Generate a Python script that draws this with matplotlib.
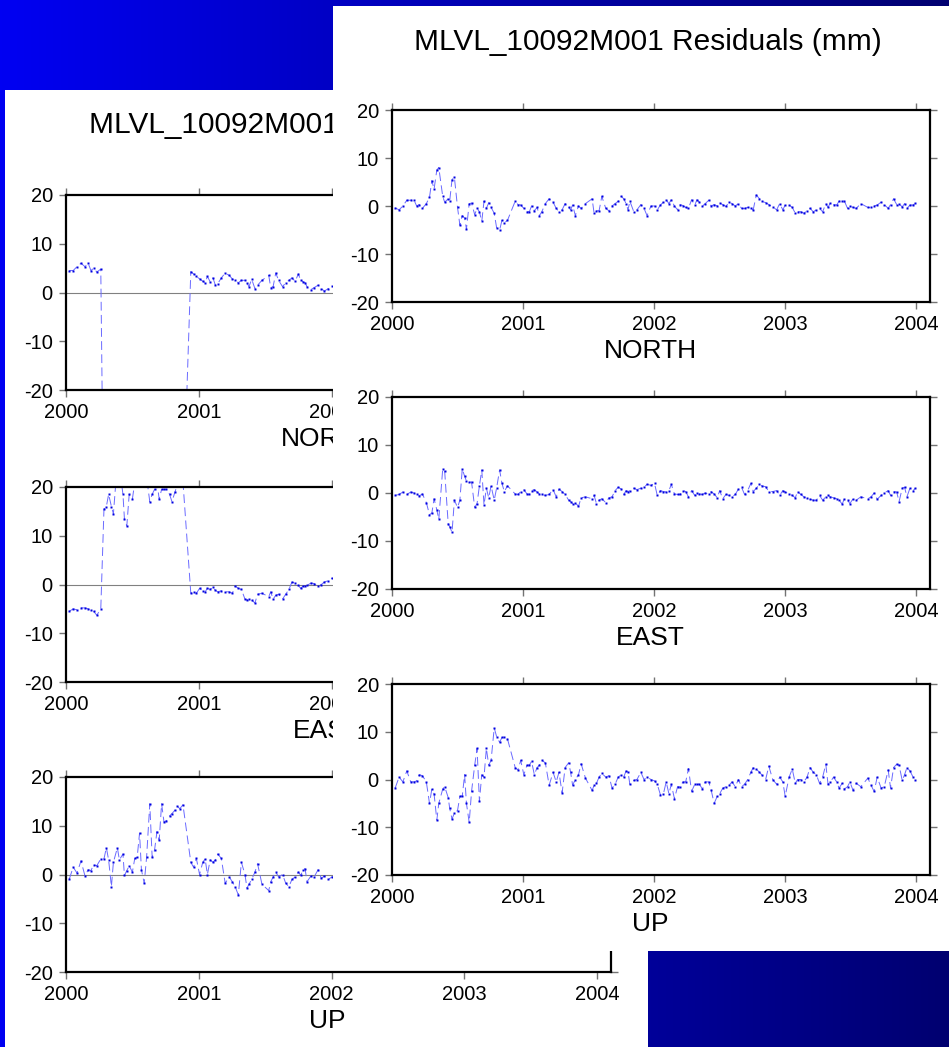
import numpy as np
import matplotlib
matplotlib.use("Agg")
import matplotlib.pyplot as plt
from matplotlib.transforms import offset_copy

plt.rcParams['font.family'] = ['Liberation Sans', 'DejaVu Sans']
plt.rcParams['axes.unicode_minus'] = False

W, H = 949, 1047
nan = float('nan')

title = 'MLVL_10092M001 Residuals (mm)'
components = ['NORTH', 'EAST', 'UP']
years = [2000, 2001, 2002, 2003, 2004]
yticks = [-20, -10, 0, 10, 20]

# weekly solution epochs (decimal year)
epochs = [
    2000.024, 2000.054, 2000.083, 2000.113, 2000.143, 2000.167, 2000.188, 2000.208, 2000.232, 2000.262,
    2000.286, 2000.304, 2000.321, 2000.342, 2000.357, 2000.387, 2000.402, 2000.429, 2000.440, 2000.458,
    2000.476, 2000.500, 2000.518, 2000.536, 2000.554, 2000.568, 2000.589, 2000.607, 2000.631, 2000.649,
    2000.667, 2000.685, 2000.702, 2000.720, 2000.738, 2000.756, 2000.780, 2000.798, 2000.821, 2000.839,
    2000.857, 2000.881, 2000.940, 2000.961, 2000.982, 2001.006, 2001.030, 2001.048, 2001.065, 2001.086,
    2001.107, 2001.125, 2001.143, 2001.170, 2001.199, 2001.229, 2001.253, 2001.274, 2001.298, 2001.321,
    2001.348, 2001.363, 2001.378, 2001.399, 2001.423, 2001.443, 2001.476, 2001.527, 2001.542, 2001.560,
    2001.580, 2001.601, 2001.631, 2001.655, 2001.679, 2001.702, 2001.726, 2001.750, 2001.768, 2001.786,
    2001.801, 2001.815, 2001.845, 2001.869, 2001.899, 2001.923, 2001.946, 2001.976, 2002.003, 2002.024,
    2002.048, 2002.071, 2002.092, 2002.113, 2002.131, 2002.155, 2002.179, 2002.196, 2002.220, 2002.241,
    2002.262, 2002.286, 2002.310, 2002.327, 2002.345, 2002.369, 2002.390, 2002.417, 2002.435, 2002.458,
    2002.482, 2002.500, 2002.524, 2002.548, 2002.571, 2002.595, 2002.619, 2002.643, 2002.667, 2002.690,
    2002.714, 2002.738, 2002.756, 2002.780, 2002.804, 2002.821, 2002.851, 2002.875, 2002.905, 2002.935,
    2002.958, 2002.982, 2003.000, 2003.030, 2003.054, 2003.077, 2003.095, 2003.119, 2003.143, 2003.167,
    2003.190, 2003.214, 2003.238, 2003.262, 2003.286, 2003.310, 2003.327, 2003.345, 2003.369, 2003.393,
    2003.411, 2003.435, 2003.452, 2003.476, 2003.494, 2003.518, 2003.542, 2003.577, 2003.631, 2003.655,
    2003.679, 2003.702, 2003.732, 2003.756, 2003.786, 2003.804, 2003.827, 2003.851, 2003.869, 2003.893,
    2003.911, 2003.929, 2003.952, 2003.976, 2003.994,
]

# corrected residuals (front plot), mm
north = [
    -0.4, -0.8, 0.0, 1.2, 1.2, 1.3, 0.0, 0.3, -0.5, 0.5,
    1.8, 5.3, 3.5, 7.5, 8.0, 2.0, 0.8, 1.5, 1.0, 5.5,
    6.0, -0.3, -4.0, -2.0, -2.5, -4.8, 0.5, 0.6, -1.8, -0.5,
    -1.2, -3.2, 1.0, -0.5, 0.7, -0.3, -1.5, -4.5, -5.0, -3.0,
    -3.5, -3.0, 1.0, 0.3, 0.2, -0.5, -1.2, -1.2, 0.0, -1.0,
    -0.3, -2.0, -1.2, 0.5, 1.5, 0.8, -0.5, -1.2, -0.8, 0.5,
    -0.3, -0.8, 0.2, -2.0, 0.0, -0.5, 0.5, 1.5, -1.5, -1.0,
    -1.0, 2.0, -0.5, -1.0, 0.0, 0.5, 1.0, 2.0, 1.5, 0.5,
    -0.8, 1.0, -1.2, -0.8, 0.3, -0.5, -2.0, 0.0, 0.0, -0.8,
    0.2, 0.8, 1.3, 0.5, 1.3, 0.0, -0.8, 0.3, 0.1, -0.3,
    -0.5, 1.3, 0.2, 1.3, 0.8, 0.0, 0.5, 1.2, 0.0, 0.3,
    0.0, 0.6, 0.3, -0.1, 0.8, 0.5, 0.0, 0.5, -0.5, -0.5,
    -0.3, -0.5, -0.8, 2.3, 1.5, 1.0, 0.7, 0.3, -0.2, -0.8,
    0.5, -0.8, 0.2, 0.2, -0.3, -1.5, -1.2, -1.2, -1.5, -1.0,
    -0.5, -1.2, -0.8, -0.5, -1.2, 0.5, -0.3, 0.7, 0.3, 0.2,
    1.0, 1.0, 1.0, -0.5, 0.0, -0.3, -0.5, 0.5, -0.3, -0.3,
    0.0, 0.2, 0.8, 0.3, -0.5, 0.3, 1.5, 0.3, 0.5, -0.2,
    0.5, -0.5, 0.2, 0.2, 0.6,
]
east = [
    -0.5, -0.3, 0.2, -0.3, 0.2, 0.0, -0.2, -0.6, -0.2, -2.0,
    -4.5, -4.2, -1.2, -3.5, -5.5, 5.0, 4.5, -6.5, -7.0, -8.2,
    -1.5, -3.0, -1.5, 5.0, 3.5, 2.5, 2.2, 2.3, -3.0, -2.2,
    1.5, 4.8, -2.5, 1.0, -1.0, 1.5, -1.5, 1.0, 4.8, 2.0,
    0.3, 1.5, -0.2, -0.3, 0.3, 0.7, -0.2, -0.3, 0.5, 0.7,
    0.2, -0.2, -0.3, -0.5, -0.3, 0.7, -0.8, 0.8, 0.3, -0.3,
    -1.5, -1.8, -2.2, -2.0, -2.8, -1.0, -0.8, -1.2, -0.5, -2.2,
    -1.5, -1.2, -2.0, -1.0, -0.8, 0.5, 1.2, 0.8, -0.3, 0.5,
    0.3, 0.5, 1.0, 0.7, 1.0, 1.2, 1.8, 1.6, 2.0, -0.5,
    0.5, 0.3, 0.2, 0.5, 1.8, -0.2, -0.3, -0.3, 0.5, 0.3,
    -0.8, 0.5, -0.5, 0.0, -0.2, -0.3, 0.0, -0.2, 0.3, -0.2,
    -1.0, 0.5, -1.2, -0.3, -0.5, -0.8, -0.3, 0.8, 1.2, -0.3,
    0.5, 2.0, 0.3, 1.0, 1.8, 1.5, 1.3, 0.3, 0.3, 0.5,
    -0.5, 0.5, 0.2, -0.2, -0.5, -1.0, 0.3, -0.3, -0.8, -1.0,
    -1.3, -1.5, -1.5, -0.5, -1.5, -0.8, -0.5, -0.8, -1.0, -1.2,
    -1.5, -2.3, -1.2, -1.5, -2.2, -1.2, -1.5, -0.8, -1.2, -0.8,
    0.0, -1.3, -0.5, 0.0, 0.5, -0.5, 0.3, 0.2, -1.8, 1.0,
    1.2, -0.8, 1.0, 0.5, 1.0,
]
up = [
    -1.8, 0.5, -0.5, 1.8, -0.5, -0.5, -0.3, 1.0, 0.8, -0.5,
    -5.0, -2.0, -3.0, -8.5, -5.0, -2.0, -1.5, -3.8, -6.0, -8.3,
    -7.0, -6.5, -3.5, -3.5, 1.0, -5.0, -9.0, -2.5, 3.0, 6.5,
    -4.5, 1.0, 0.5, 6.5, 3.0, 4.0, 10.8, 9.0, 7.8, 8.8,
    8.8, 8.5, 2.5, 2.0, 4.0, 1.0, 3.0, 3.0, 3.8, 1.0,
    2.5, 3.0, 4.0, 3.5, -1.2, 1.5, -0.5, 1.5, -2.8, 2.5,
    3.5, 1.5, -1.2, 0.0, 1.0, 3.3, 0.3, -2.3, -1.2, -0.8,
    0.5, 1.3, 0.5, 0.8, -1.8, -1.0, 0.5, 1.0, 0.5, 1.8,
    1.5, -1.0, -0.2, 0.0, 1.5, 0.0, 0.5, 0.0, -0.3, -1.0,
    -3.2, -3.0, -0.5, -3.0, -1.0, -4.0, -1.5, -1.5, -0.5, -0.5,
    2.3, -2.5, -1.0, -1.0, -1.0, -2.0, -0.5, -0.5, -2.2, -5.0,
    -3.5, -3.0, -1.8, -1.5, -1.2, -0.5, -1.5, 0.0, -1.5, -1.0,
    0.0, 1.5, 2.5, 2.2, 1.5, 1.0, 0.0, 2.8, 0.0, -1.0,
    0.5, -0.5, -3.5, 0.5, 2.2, -0.8, 0.0, 0.0, -0.5, 0.5,
    2.5, 1.5, 1.0, -0.8, 0.5, 3.2, -1.0, -0.5, 0.5, -0.5,
    -1.8, -0.8, -2.0, -1.5, -0.5, -2.3, -0.8, -1.5, 0.3, -1.2,
    -2.5, 0.5, -1.8, -1.5, 2.0, -1.8, 2.5, 3.2, 3.0, -0.2,
    1.0, 2.5, 1.8, 0.5, 0.0,
]

# uncorrected residuals (back plot), first epochs only; off-scale weeks beyond -20/+20
north_raw = ([4.5, 4.5, 5.3, 6.0, 5.3, 6.0, 4.5, 5.0, 4.2, 4.8, -55.0]
             + [nan] * 30
             + [-45.0,
                4.3, 3.8, 3.3, 2.8, 2.3, 2.0, 3.3, 2.2, 3.0, 1.5,
                1.8, 3.0, 4.0, 3.5, 2.8, 2.5, 2.0, 2.5, 2.5, 2.0,
                1.2, 2.7, 0.8, 1.5, 2.5, 3.5, 1.0, 1.2, 4.0, 2.5,
                1.2, 2.0, 2.5, 3.0, 2.3, 3.8, 2.5, 2.2, 2.0, 1.2,
                0.6, 1.0, 1.5, 0.8, 0.3, 0.8, 1.3, 1.0, 1.2])
east_raw = [
    -5.5, -5.0, -5.2, -4.8, -4.8, -5.0, -5.2, -5.5, -6.3, -5.0,
    15.5, 16.0, 18.5, 16.0, 14.5, 25.0, 24.0, 18.5, 13.5, 12.0,
    18.5, 17.5, 21.0, 23.0, 22.0, 23.0, 21.5, 22.0, 17.0, 18.5,
    19.5, 21.0, 17.5, 19.5, 19.5, 19.5, 18.5, 17.0, 19.0, 20.5,
    22.0, 21.0, -1.8, -1.5, -1.8, -0.8, -1.3, -1.5, -0.8, -1.0,
    -0.5, -1.2, -1.5, -1.3, -1.5, -1.5, -1.8, -0.3, -0.8, -1.0,
    -3.0, -3.2, -3.0, -3.2, -3.8, -2.0, -1.8, -2.5, -1.5, -3.0,
    -2.2, -2.0, -3.0, -2.0, -1.0, 0.5, 0.3, -0.2, -0.8, -0.3,
    -0.3, -0.2, 0.3, 0.2, -0.3, 0.0, 0.5, 0.8, 1.3, 1.0, 1.5,
]
up_raw = [
    -1.0, 1.5, 0.3, 2.8, -0.3, 1.0, 0.8, 2.0, 1.8, 3.2,
    3.2, 5.5, 3.0, -2.5, 2.5, 5.5, 3.0, 4.2, -0.2, 0.8,
    1.8, 0.5, 3.3, 3.5, 8.5, 1.0, -1.8, 3.5, 14.5, 3.5,
    5.0, 8.8, 7.0, 14.5, 10.8, 11.0, 12.0, 12.5, 13.2, 14.0,
    13.5, 14.3, 2.5, 1.5, 3.3, 0.0, 2.5, 3.2, 0.0, 3.0,
    2.5, 3.0, 4.2, 3.3, -1.8, -0.5, -1.5, -2.5, -4.2, 2.5,
    0.0, -2.8, -2.0, -1.0, 0.5, 2.2, -2.0, -3.3, -1.5, -0.5,
    0.5, -0.5, 0.0, -1.8, -2.5, -1.0, -0.5, 0.5, -0.2, 1.0,
    1.2, -1.5, -0.3, -0.5, 1.0, -0.8, -0.3, -1.0, -0.5, -0.3, -0.8,
]


def rect(x0, y0, x1, y1):
    return [x0 / W, 1 - y1 / H, (x1 - x0) / W, (y1 - y0) / H]


def panel(box, z, title_x, title_y):
    ax = fig.add_axes(rect(*box))
    ax.set_zorder(z)
    ax.set_facecolor('white')
    ax.set_xticks([])
    ax.set_yticks([])
    for s in ax.spines.values():
        s.set_visible(False)
    ax.text(title_x, title_y, title, transform=ax.transAxes, ha='center', va='center', fontsize=21.5)
    return ax


def series_axes(box, z, t, v, name, zero_line):
    ax = fig.add_axes(rect(*box))
    ax.set_zorder(z)
    ax.set_facecolor('white')
    ax.set_xlim(2000, 2004.105)
    ax.set_ylim(-20, 20)
    ax.set_xticks(years)
    ax.set_xticklabels([str(y) for y in years])
    ax.set_yticks(yticks)
    ax.tick_params(direction='out', length=5, width=1, color='0.45', labelsize=14.5, pad=4.5,
                   top=True, right=True)
    for tk in ax.xaxis.get_major_ticks():
        tk.tick2line.set_color('black')
    for s in ax.spines.values():
        s.set_linewidth(1.6)
        s.set_color('black')
    if zero_line:
        ax.axhline(0, color='0.5', lw=0.8, zorder=1)
    ax.plot(t, v, ls=(0, (9, 4.5)), lw=0.7, color='#6a6aff',
            marker='s', ms=1.7, mfc='#0000e0', mec='none', zorder=2)
    ax.text(0.48, 0, name, transform=offset_copy(ax.transAxes, y=-49, units='dots'),
            ha='center', va='center', fontsize=19)
    return ax


fig = plt.figure(figsize=(W / 100, H / 100), dpi=100)

# slide background gradient
bg = fig.add_axes([0, 0, 1, 1])
bg.set_zorder(0)
shade = np.linspace(0.95, 0.44, W)
grad = np.zeros((1, W, 3))
grad[0, :, 2] = shade
bg.imshow(grad, aspect='auto', extent=[0, 1, 0, 1])
bg.set_axis_off()

# back (raw) figure
panel((5, 90, 648, 1047), 1, 0.495, 0.963)
back_rows = [(195, 390), (487, 682), (777, 972)]
raw = [north_raw, east_raw, up_raw]
for (y0, y1), vals, name in zip(back_rows, raw, components):
    series_axes((66, y0, 611, y1), 2, epochs[:len(vals)], vals, name, True)

# front (corrected) figure
panel((333, 6, 949, 951), 3, 0.511, 0.962)
front_rows = [(110, 302), (397, 589), (684, 875)]
corr = [north, east, up]
for (y0, y1), vals, name in zip(front_rows, corr, components):
    series_axes((392, y0, 930, y1), 4, epochs, vals, name, False)

fig.savefig('out.png', dpi=100)
